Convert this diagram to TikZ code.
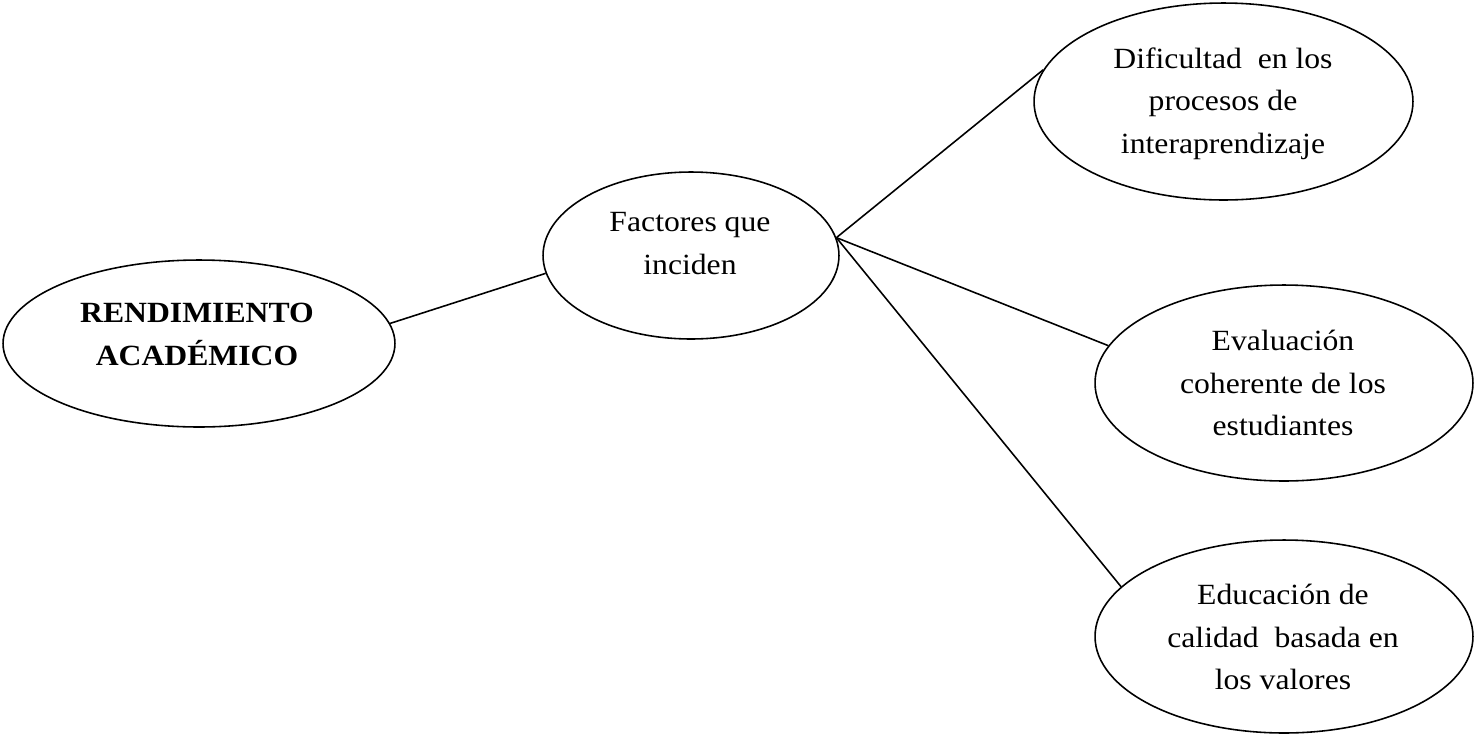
\documentclass[tikz,border=0pt]{standalone}
\usepackage{fontspec}
\setmainfont{Liberation Serif}[FakeStretch=1.08]
\usetikzlibrary{shapes.geometric}

\begin{document}
\begin{tikzpicture}[x=0.02cm, y=-0.02cm,
		elipse/.style={draw, ellipse, line width=0.9pt, inner sep=0pt},
		texto/.style={align=center, inner sep=0pt, font=\fontsize{16.7}{24.1}\selectfont},
		enlace/.style={line width=0.9pt}]
			%%%%% START %%%%%
			
			\useasboundingbox (0, 0) rectangle (1474, 738);
			
			\node[elipse, minimum width=7.84cm, minimum height=3.34cm] (rend) at (199, 343.5) {};
			\node[texto, font=\fontsize{16.7}{24.1}\selectfont\bfseries] (rend-t) at (197, 334.3) {RENDIMIENTO\\ACADÉMICO};
			
			\node[elipse, minimum width=5.92cm, minimum height=3.34cm] (fact) at (691, 255.5) {};
			\node[texto] (fact-t) at (690, 243.5) {Factores que\\inciden};
			
			\node[elipse, minimum width=7.58cm, minimum height=3.94cm] (difi) at (1223.5, 101.5) {};
			\node[texto] (difi-t) at (1223, 103.7) {Dificultad\ \ en los\\procesos de\\interaprendizaje};
			
			\node[elipse, minimum width=7.56cm, minimum height=3.92cm] (eval) at (1284, 383) {};
			\node[texto] (eval-t) at (1283, 383) {Evaluación\\coherente de los\\estudiantes};
			
			\node[elipse, minimum width=7.56cm, minimum height=3.86cm] (educ) at (1284, 636.5) {};
			\node[texto] (educ-t) at (1283, 637) {Educación de\\calidad\ \ basada en\\los valores};
			
			\draw[enlace] (rend.6) -- (fact.187);
			\draw[enlace] (fact.7) -- (difi.170);
			\draw[enlace] (fact.7) -- (eval.168);
			\draw[enlace] (fact.7) -- (educ.163);
			
			%%%%% END %%%%%
		\end{tikzpicture}
\end{document}
